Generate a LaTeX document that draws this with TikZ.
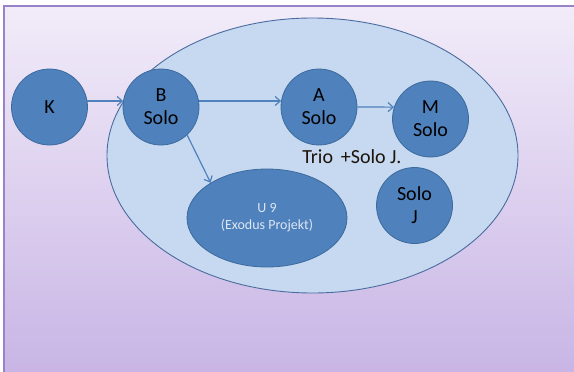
\documentclass[tikz,border=0pt]{standalone}
\usepackage{fontspec}
\setmainfont{Carlito}
\usetikzlibrary{arrows.meta,shapes.geometric}
\definecolor{bgTop}{HTML}{F2ECF9}
\definecolor{bgBot}{HTML}{C8B5E5}
\definecolor{frameC}{HTML}{9A82C8}
\definecolor{ellFill}{HTML}{C6D9F0}
\definecolor{ellLine}{HTML}{4A6C9E}
\definecolor{circFill}{HTML}{4F81BD}
\definecolor{circLine}{HTML}{3D6A9C}
\definecolor{arrowC}{HTML}{4F81BD}
\definecolor{u9text}{HTML}{DCE6F4}
\tikzset{
  person/.style={circle, draw=circLine, line width=0.8pt, fill=circFill, minimum size=76pt, inner sep=0pt,
    align=center, font=\fontsize{20}{23}\selectfont, text=black},
  flow/.style={draw=arrowC, line width=1.2pt, -{Straight Barb[length=5pt,width=9pt]}},
}
\begin{document}
\begin{tikzpicture}[x=1pt,y=-1pt]
\useasboundingbox (0,0) rectangle (574,372);
\fill[white] (0,0) rectangle (574,372);
\shade[top color=bgTop, bottom color=bgBot] (4,6) rectangle (574,372);
\draw[frameC, line width=1.5pt] (4,372) -- (4,6) -- (574,6);
\node[ellipse, draw=ellLine, line width=0.9pt, fill=ellFill, minimum width=411pt, minimum height=275pt, inner sep=0pt] (group) at (312.5,155.5) {};
\node[person] (K) at (49.5,107) {K};
\node[person] (B) at (161,107) {B\\Solo};
\node[person] (A) at (319,107) {A\\Solo};
\node[person] (M) at (430.5,119) {M\\Solo};
\node[person] (J) at (414.5,205.5) {Solo\\J};
\node[ellipse, draw=circLine, line width=0.8pt, fill=circFill, minimum width=160pt, minimum height=98pt, inner sep=0pt,
  align=center, font=\fontsize{14}{17}\selectfont, text=u9text] (U) at (267,218) {U 9\\(Exodus Projekt)};
\node[font=\fontsize{20}{23}\selectfont, text=black!85!brown] (trio) at (352,157) {Trio \,+Solo J.};
\draw[flow] (K.9) -- (B.171);
\draw[flow] (B.9) -- (A.171);
\draw[flow] (A.east) -- (M.162);
\draw[flow] (B.-47) -- (U.148);
\end{tikzpicture}
\end{document}
